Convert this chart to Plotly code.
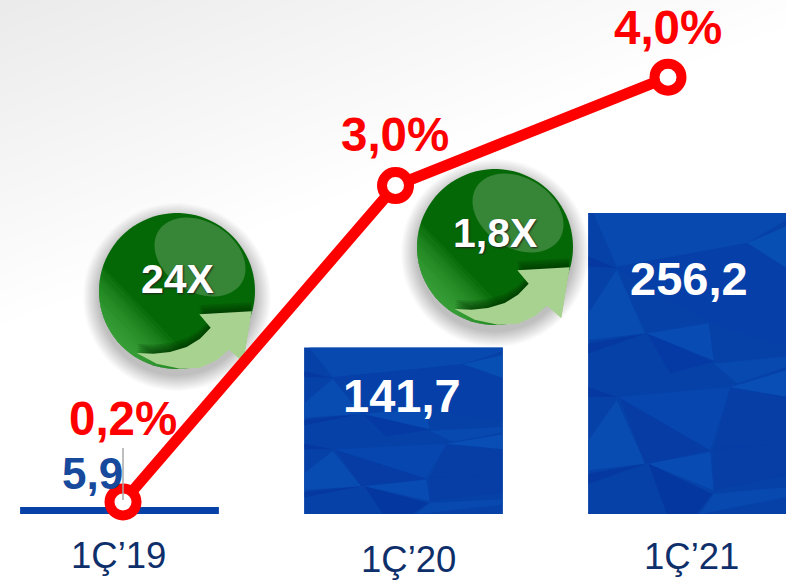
import math
import plotly.graph_objects as go

# ---- data ----
categories = ["1Ç’19", "1Ç’20", "1Ç’21"]
volume_values = [5.9, 141.7, 256.2]
volume_labels = ["5,9", "141,7", "256,2"]
share_values = [0.2, 3.03, 4.0]
share_labels = ["0,2%", "3,0%", "4,0%"]
growth_labels = ["24X", "1,8X"]

W, H = 786, 580
FONT = "Liberation Sans"

def px(x): return x / W
def py(y): return 1 - y / H

def poly(points, color, opacity=1.0, layer="above"):
    d = "M" + "L".join(f"{px(x):.5f},{py(y):.5f}" for x, y in points) + "Z"
    return dict(type="path", xref="paper", yref="paper", path=d, fillcolor=color,
                opacity=opacity, line=dict(width=0), layer=layer)

def ring(cx, cy, r, n=90):
    return [(cx + r * math.cos(2 * math.pi * i / n), cy + r * math.sin(2 * math.pi * i / n)) for i in range(n)]

shapes = []

# background: soft diagonal grey fade from the top left
for grey in range(254, 234, -1):
    L = 340 * (grey - 234) / 21
    shapes.append(poly([(0, 0), (L / 0.38, 0), (0, L)] if L / 0.38 <= W
                       else [(0, 0), (W, 0), (W, L - 0.38 * W), (0, L)],
                       f"rgb({grey},{grey},{grey})", layer="below"))

# green growth badges
ARROW = [(170, 458), (230, 490), (300, 505), (360, 502), (410, 480), (447, 448), (490, 486),
         (515, 333), (358, 342), (392, 382), (360, 415), (320, 440), (270, 455), (220, 460)]
def badge(cx, cy):
    R = 78
    for k in range(16):
        shapes.append(poly(ring(cx, cy + 6, R + (16 - k) * 1.0), "#000000", 0.017, "below"))
    shapes.append(poly(ring(cx, cy, R), "#056806", 1, "below"))
    dx, dy = -0.72, 0.69
    for d in range(36, 78, 3):
        pts = [p for p in ring(cx, cy, R, 180) if (p[0] - cx) * dx + (p[1] - cy) * dy >= d]
        if len(pts) > 2:
            shapes.append(poly(pts, "#4dbb4d", 0.085, "below"))
    arrow = [(cx + (x - 291) / 3, cy + (y - 272) / 3) for x, y in ARROW]
    for s in (9, 7, 5, 3, 1.5):
        shapes.append(poly([(x, y - s) for x, y in arrow], "#013001", 0.2, "below"))
    shapes.append(poly(arrow, "#a8d28f", 1, "below"))
    a = math.radians(32)
    gx, gy = cx + 23, cy - 34
    glare = []
    for i in range(60):
        t = 2 * math.pi * i / 60
        u, v = 49 * math.cos(t), 35 * math.sin(t)
        glare.append((gx + u * math.cos(a) - v * math.sin(a), gy + u * math.sin(a) + v * math.cos(a)))
    shapes.append(poly(glare, "#ffffff", 0.2, "below"))

badge(177, 291)
badge(495, 247)

# low-poly texture on the blue blocks (coordinates are fractions of a block)
FACETS = [
    ([(40, 40), (110, 200), (500, 130), (618, 60), (618, 40)], "#0a4eb4"),
    ([(500, 130), (618, 80), (618, 205)], "#0a58bd"),
    ([(110, 205), (390, 370), (618, 440), (618, 205), (500, 130)], "#063ea6"),
    ([(25, 340), (110, 210), (195, 400), (25, 420)], "#0a52b8"),
    ([(25, 430), (195, 400), (25, 460)], "#05339c"),
    ([(25, 170), (110, 205), (25, 200)], "#05339c"),
    ([(200, 400), (385, 370), (400, 480)], "#0a52ba"),
    ([(200, 400), (400, 485), (270, 520)], "#0536a2"),
    ([(400, 490), (618, 470), (618, 500), (470, 550)], "#0a4fb5"),
    ([(470, 555), (618, 510), (618, 590), (450, 560)], "#0a56bc"),
    ([(450, 565), (618, 590), (618, 730), (400, 750)], "#063ca5"),
    ([(25, 560), (110, 590), (25, 590)], "#05339c"),
    ([(115, 590), (390, 750), (450, 560)], "#084ab2"),
    ([(120, 595), (195, 790), (390, 750)], "#0639a2"),
    ([(25, 720), (110, 600), (195, 790), (25, 810)], "#0a52b8"),
    ([(25, 820), (195, 790), (25, 850)], "#05339c"),
    ([(205, 790), (390, 755), (400, 870)], "#0a52ba"),
    ([(205, 790), (395, 880), (350, 940), (260, 940)], "#04309a"),
    ([(400, 740), (618, 730), (618, 825), (400, 870)], "#063ca5"),
    ([(400, 880), (618, 860), (618, 890), (360, 940)], "#0a4fb5"),
]
BASE_PX, PX_PER_UNIT = 514, 1.175
for i, left in ((1, 304), (2, 588)):
    top = BASE_PX - volume_values[i] * PX_PER_UNIT
    for pts, col in FACETS:
        shapes.append(poly([(left + (x - 24) / 594 * 198.5, top + (y - 40) / 900 * (BASE_PX - top))
                            for x, y in pts], col, 0.6))

# thin leader line at the first point
shapes.append(dict(type="line", xref="paper", yref="paper", x0=px(123), x1=px(123), y0=py(448), y1=py(500),
                   line=dict(color="#a8a8a8", width=1.5), layer="above"))

fig = go.Figure()
fig.add_trace(go.Bar(x=categories, y=volume_values, width=0.7,
                     marker=dict(color="#0641a8", line=dict(width=0)), xaxis="x", yaxis="y"))
fig.add_trace(go.Scatter(x=categories, y=share_values, mode="lines+markers", xaxis="x2", yaxis="y2",
                         line=dict(color="#ff0000", width=11),
                         marker=dict(size=27, color="#ffffff", line=dict(color="#ff0000", width=10))))

def note(text, x, y, size, color, bold=True, shadow=None):
    f = dict(family=FONT, size=size, color=color, weight="bold" if bold else "normal")
    if shadow:
        f["shadow"] = shadow
    return dict(text=text, xref="paper", yref="paper", x=px(x), y=py(y), xanchor="center", yanchor="middle",
                showarrow=False, font=f)

annotations = []
for label, (x, y) in zip(share_labels, [(123, 418), (395, 135), (668, 28)]):
    annotations.append(note(label, x, y, 47.5, "#ff0000"))
annotations.append(note(volume_labels[0], 92, 473, 44, "#174a9c"))
for label, (x, y) in zip(volume_labels[1:], [(402, 395), (689, 278)]):
    annotations.append(note(label, x, y, 47, "#ffffff"))
for label, (x, y) in zip(growth_labels, [(177, 279), (495, 233)]):
    annotations.append(note(label, x, y, 41, "#ffffff", shadow="1px 1px 2px #222222"))
for label, (x, y) in zip(categories, [(118, 555), (409, 559), (691, 556)]):
    annotations.append(note(label, x, y, 36.5, "#0f2f6b", bold=False))

# axes are mapped so that the value scales fill the whole frame
axis = dict(visible=False, fixedrange=True)
fig.update_layout(
    width=W, height=H, margin=dict(l=0, r=0, t=0, b=0), showlegend=False,
    paper_bgcolor="#ffffff", plot_bgcolor="rgba(0,0,0,0)",
    xaxis=dict(axis, type="category", categoryarray=categories, range=[-119.5 / 284, (W - 119.5) / 284]),
    xaxis2=dict(axis, type="category", categoryarray=categories, overlaying="x", range=[-123 / 272.5, (W - 123) / 272.5]),
    yaxis=dict(axis, range=[(BASE_PX - H) / PX_PER_UNIT, BASE_PX / PX_PER_UNIT]),
    yaxis2=dict(axis, overlaying="y", range=[0.2 - (H - 502) / 111.8, 0.2 + 502 / 111.8]),
    shapes=shapes, annotations=annotations,
)
fig.write_html("out.html", config=dict(displayModeBar=False),
               post_script="document.body.style.margin='0';document.documentElement.style.overflow='hidden';")
